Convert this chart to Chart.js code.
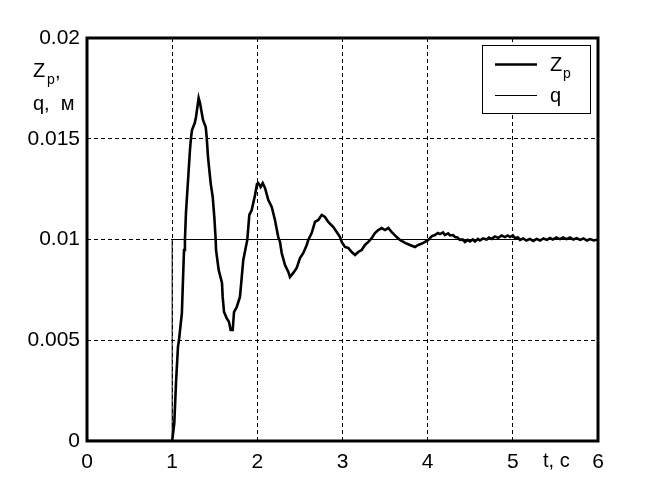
<!DOCTYPE html>
<html>
<head>
<meta charset="utf-8">
<script src="https://cdn.jsdelivr.net/npm/chart.js@4.4.1/dist/chart.umd.min.js"></script>
<style>
  body { margin: 0; background: #fff; }
  #wrap { width: 661px; height: 496px; }
</style>
</head>
<body>
<div id="wrap"><canvas id="chart" width="661" height="496"></canvas></div>
<script>
// time axis, s
const tValues = [
  0, 1.0, 1.025, 1.045, 1.068, 1.08, 1.114, 1.139, 1.15, 1.162, 1.209, 1.221, 1.233, 1.265, 1.28, 1.311,
  1.327, 1.362, 1.394, 1.405, 1.421, 1.452, 1.476, 1.495, 1.511, 1.515, 1.546, 1.585, 1.593, 1.609,
  1.64, 1.667, 1.687, 1.711, 1.726, 1.758, 1.796, 1.835, 1.882, 1.906, 1.934, 1.973, 1.996, 2.011,
  2.039, 2.063, 2.09, 2.129, 2.169, 2.207, 2.246, 2.266, 2.286, 2.325, 2.364, 2.383, 2.422, 2.462,
  2.501, 2.54, 2.58, 2.598, 2.638, 2.677, 2.716, 2.756, 2.794, 2.833, 2.892, 2.932, 2.971, 2.991,
  3.029, 3.068, 3.108, 3.147, 3.185, 3.225, 3.264, 3.303, 3.343, 3.381, 3.42, 3.46, 3.499, 3.538,
  3.578, 3.636, 3.675, 3.734, 3.792, 3.851, 3.89, 3.949, 4.007, 4.05, 4.086, 4.12, 4.145, 4.18,
  4.203, 4.24, 4.262, 4.3, 4.321, 4.35, 4.379, 4.41, 4.438, 4.47, 4.497, 4.53, 4.556, 4.59, 4.614,
  4.65, 4.693, 4.72, 4.752, 4.79, 4.829, 4.87, 4.908, 4.94, 4.967, 5.0, 5.025, 5.06, 5.084, 5.12,
  5.16, 5.2, 5.24, 5.28, 5.319, 5.36, 5.4, 5.436, 5.47, 5.51, 5.554, 5.59, 5.63, 5.671, 5.71, 5.75,
  5.789, 5.83, 5.87, 5.906, 5.95, 6.0
];
// Zp, m
const zpValues = [
  0, 0, 0.00089, 0.00288, 0.00467, 0.00501, 0.00635, 0.00948, 0.0100, 0.01132, 0.01444, 0.01504, 0.01543, 0.01578, 0.01608, 0.01702,
  0.01677, 0.01593, 0.01558, 0.01509, 0.01409, 0.0128, 0.01211, 0.01111, 0.00998, 0.00948, 0.00849, 0.00784, 0.00715, 0.0064,
  0.0061, 0.00591, 0.00551, 0.00551, 0.0064, 0.00665, 0.00715, 0.00898, 0.00998, 0.01122, 0.01146, 0.01221, 0.01275, 0.0128,
  0.01261, 0.0128, 0.01256, 0.01196, 0.01161, 0.01097, 0.01012, 0.00988, 0.00933, 0.00873, 0.00839, 0.00814, 0.00834, 0.00859,
  0.00908, 0.00933, 0.00973, 0.00998, 0.01032, 0.01087, 0.01097, 0.01122, 0.01112, 0.01087, 0.01062, 0.01037, 0.01012, 0.00988,
  0.00963, 0.00958, 0.00938, 0.00923, 0.00938, 0.00948, 0.00973, 0.00988, 0.01007, 0.01032, 0.01047, 0.01057, 0.01047, 0.01057,
  0.01037, 0.01012, 0.00998, 0.00983, 0.00973, 0.00963, 0.00973, 0.00983, 0.00998, 0.01017, 0.01022, 0.01032, 0.01027, 0.01035,
  0.01022, 0.0103, 0.0102, 0.01022, 0.01012, 0.0101, 0.00998, 0.01, 0.00988, 0.00998, 0.0099, 0.01, 0.0099, 0.01003, 0.00995,
  0.01005, 0.01, 0.0101, 0.01003, 0.01015, 0.01008, 0.0102, 0.01012, 0.0102, 0.01012, 0.0102, 0.01007, 0.0101, 0.00998, 0.01005,
  0.00995, 0.01003, 0.00993, 0.01003, 0.00995, 0.01005, 0.00998, 0.01007, 0.01, 0.0101, 0.01002, 0.0101, 0.01002, 0.0101, 0.01, 0.01007,
  0.00998, 0.01005, 0.00995, 0.01002, 0.00995, 0.01
];
// q step input
const qT = [0, 1, 1, 6];
const qValues = [0, 0, 0.01, 0.01];

const xTicks = [0, 1, 2, 3, 4, 5, 6];
const yTickLabels = ['0', '0.005', '0.01', '0.015', '0.02'];

const FONT = '"Liberation Sans", Arial, sans-serif';

const zpData = tValues.map((t, i) => ({ x: t, y: zpValues[i] }));
const qData = qT.map((t, i) => ({ x: t, y: qValues[i] }));

// frame, axis captions and legend box
const decor = {
  id: 'decor',
  afterDraw(chart) {
    const ctx = chart.ctx;
    const a = chart.chartArea;
    ctx.save();
    ctx.strokeStyle = '#000';
    ctx.lineWidth = 3;
    ctx.strokeRect(a.left, a.top, a.right - a.left, a.bottom - a.top);

    ctx.fillStyle = '#000';
    ctx.textBaseline = 'alphabetic';
    ctx.textAlign = 'left';
    ctx.font = '20px ' + FONT;
    ctx.fillText('Z', 33, 77);
    ctx.fillText(',', 55, 78);
    ctx.fillText('q,  м', 33, 110);
    ctx.fillText('t, c', 543, 467);
    ctx.font = '14px ' + FONT;
    ctx.fillText('p', 47, 84);

    // legend
    ctx.fillStyle = '#fff';
    ctx.fillRect(482, 45, 108, 68);
    ctx.lineWidth = 1;
    ctx.strokeRect(482.5, 45.5, 108, 68);
    ctx.beginPath();
    ctx.lineWidth = 2.5;
    ctx.moveTo(495, 64.5);
    ctx.lineTo(537, 64.5);
    ctx.stroke();
    ctx.beginPath();
    ctx.lineWidth = 1;
    ctx.moveTo(495, 95.5);
    ctx.lineTo(537, 95.5);
    ctx.stroke();
    ctx.fillStyle = '#000';
    ctx.font = '20px ' + FONT;
    ctx.fillText('Z', 550, 71);
    ctx.fillText('q', 550, 102);
    ctx.font = '14px ' + FONT;
    ctx.fillText('p', 563, 78);
    ctx.restore();
  }
};

const gridStyle = {
  color: '#000',
  lineWidth: 1,
  drawTicks: false
};

new Chart(document.getElementById('chart'), {
  type: 'line',
  data: {
    datasets: [
      {
        label: 'Zp',
        data: zpData,
        borderColor: '#000',
        borderWidth: 2.6,
        pointRadius: 0,
        tension: 0,
        fill: false
      },
      {
        label: 'q',
        data: qData,
        borderColor: '#000',
        borderWidth: 1,
        pointRadius: 0,
        tension: 0,
        fill: false
      }
    ]
  },
  options: {
    responsive: false,
    animation: false,
    layout: { padding: { top: 38, right: 63, left: 0, bottom: 0 } },
    plugins: {
      legend: { display: false },
      tooltip: { enabled: false }
    },
    scales: {
      x: {
        type: 'linear',
        min: 0,
        max: 6,
        afterFit: s => { s.height = 55; },
        afterBuildTicks: s => { s.ticks = xTicks.map(v => ({ value: v })); },
        grid: gridStyle,
        border: { display: false, dash: [4, 3] },
        ticks: {
          color: '#000',
          padding: 9,
          font: { family: FONT, size: 21 },
          maxRotation: 0,
          callback: v => String(v)
        }
      },
      y: {
        min: 0,
        max: 0.02,
        afterFit: s => { s.width = 87; },
        afterBuildTicks: s => { s.ticks = yTickLabels.map(l => ({ value: parseFloat(l) })); },
        grid: gridStyle,
        border: { display: false, dash: [4, 3] },
        ticks: {
          color: '#000',
          padding: 7,
          font: { family: FONT, size: 21 },
          callback: (v, i) => yTickLabels[i]
        }
      }
    }
  },
  plugins: [decor]
});
</script>
</body>
</html>
